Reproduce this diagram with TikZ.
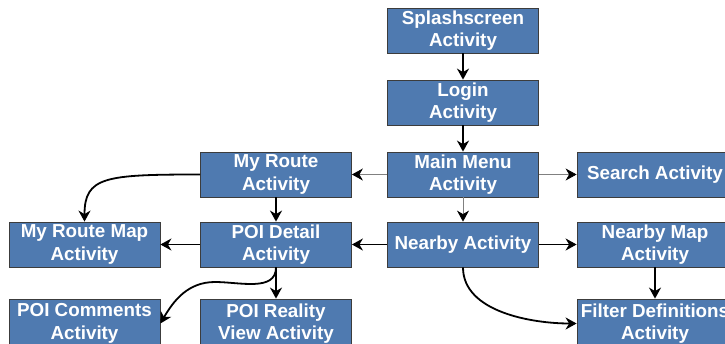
\documentclass[tikz,border=0pt]{standalone}
\usepackage{fontspec}
\setmainfont{Liberation Sans}
\usetikzlibrary{arrows.meta}
\definecolor{boxblue}{RGB}{79,122,176}
\definecolor{boxedge}{RGB}{60,60,60}
\begin{document}
\begin{tikzpicture}[x=1pt,y=1pt,
  act/.style={draw=boxedge,line width=0.8pt,fill=boxblue,minimum width=151pt,minimum height=45pt,inner sep=0pt,
    align=center,text=white,font=\fontsize{18.8}{22.5}\selectfont\bfseries},
  lowact/.style={act,minimum height=49pt},
  thick arrow/.style={line width=1.8pt,-{Stealth[length=11pt,width=12pt,inset=3.5pt]}},
  thin arrow/.style={draw=gray,line width=0.8pt,-{Stealth[length=11pt,width=12pt,inset=3.5pt,color=black]}}
]
\useasboundingbox (0,0) rectangle (725,-343);
\node[act] (splash) at (463,-30.5) {Splashscreen\\Activity};
\node[act] (login) at (463,-102.5) {Login\\Activity};
\node[act] (main) at (463,-174.5) {Main Menu\\Activity};
\node[act,minimum width=156pt] (search) at (655,-174.5) {Search Activity};
\node[act] (myroute) at (276,-174.5) {My Route\\Activity};
\node[act] (nearby) at (463,-244.5) {Nearby Activity};
\node[act,minimum width=156pt] (nmap) at (655,-244.5) {Nearby Map\\Activity};
\node[act] (poid) at (276,-244.5) {POI Detail\\Activity};
\node[act] (mrmap) at (84.5,-244.5) {My Route Map\\Activity};
\node[lowact] (poic) at (84.5,-323.5) {POI Comments\\Activity};
\node[lowact] (poir) at (276,-323.5) {POI Reality\\View Activity};
\node[lowact,minimum width=156pt] (filter) at (655,-323.5) {Filter Definitions\\Activity};

\draw[thick arrow] (splash) -- (login);
\draw[thick arrow] (login) -- (main);
\draw[thin arrow] (main) -- (myroute);
\draw[thin arrow] (main) -- (search);
\draw[thin arrow] (main) -- (nearby);
\draw[thick arrow] (nearby) -- (poid);
\draw[thick arrow] (nearby) -- (nmap);
\draw[thick arrow] (nmap.south -| filter.north) -- (filter.north);
\draw[thick arrow] (nearby.south) to[out=-90,in=180,looseness=0.9] (filter.west);
\draw[thick arrow] (myroute) -- (poid);
\draw[thick arrow] (myroute.west) .. controls +(-95,0) and +(0,45) .. (mrmap.north);
\draw[thick arrow] (poid) -- (mrmap);
\draw[thick arrow] (poid) -- (poir);
\coordinate (mid) at (215,-282);
\draw[thick arrow] (poid.south) to[out=-90,in=0] (mid) to[out=180,in=60] (poic.east);
\end{tikzpicture}
\end{document}
